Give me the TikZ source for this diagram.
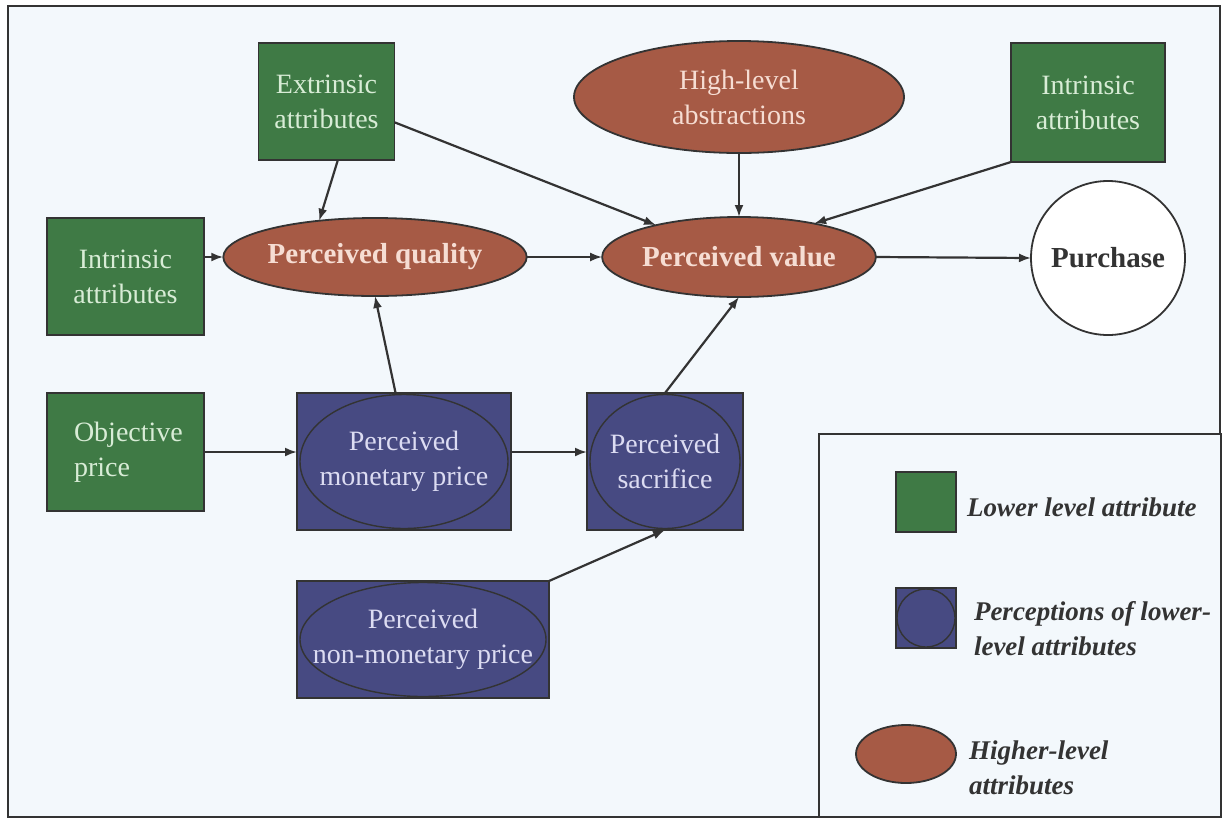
\documentclass[tikz,border=0pt]{standalone}
\usepackage{fontspec}
\setmainfont{Liberation Serif}
\usetikzlibrary{arrows.meta,calc,shapes.geometric}
\definecolor{bg}{HTML}{F3F8FC}
\definecolor{grn}{HTML}{3F7A45}
\definecolor{grntxt}{HTML}{D8ECD6}
\definecolor{brn}{HTML}{A65A45}
\definecolor{brntxt}{HTML}{F6DDD3}
\definecolor{blu}{HTML}{474A82}
\definecolor{blutxt}{HTML}{DCDCF2}
\definecolor{ink}{HTML}{333333}
\tikzset{
  every node/.style={inner sep=0pt, outer sep=0pt},
  lowbox/.style={rectangle, draw=ink, line width=1.8pt, fill=grn, text=grntxt, align=center,
    font=\fontsize{28}{35}\selectfont},
  highell/.style={ellipse, draw=ink, line width=1.8pt, fill=brn, text=brntxt, align=center},
  percbox/.style={rectangle, draw=ink, line width=1.8pt, fill=blu, text=blutxt, align=center,
    font=\fontsize{28}{35}\selectfont},
  inell/.style={draw=ink, line width=1.4pt},
  arr/.style={draw=ink, line width=2.2pt, -{Latex[length=12pt,width=9pt]}},
  legtext/.style={anchor=west, align=left, text=ink, font=\fontsize{27}{35}\selectfont\bfseries\itshape}
}
\begin{document}
\begin{tikzpicture}[x=1pt,y=-1pt]
\useasboundingbox (0,0) rectangle (1223,820);
\fill[white] (0,0) rectangle (1223,820);
\fill[bg] (8,6) rectangle (1220,817);
\draw[ink, line width=2.5pt] (8,6) rectangle (1220,817);

% lower-level attributes
\node[lowbox, minimum width=136pt, minimum height=117pt] (ext) at (326.5,101.5) {Extrinsic\\attributes};
\node[lowbox, minimum width=154pt, minimum height=119pt] (intr) at (1088,102.5) {Intrinsic\\attributes};
\node[lowbox, minimum width=157pt, minimum height=117pt] (intl) at (125.5,276.5) {Intrinsic\\attributes};
\node[lowbox, minimum width=157pt, minimum height=118pt] (obj) at (125.5,452) {};
\node[text=grntxt, align=left, anchor=west, font=\fontsize{28}{35}\selectfont] (objt) at (74,452) {Objective\\price};

% higher-level attributes
\node[highell, minimum width=330pt, minimum height=112pt, font=\fontsize{28}{35}\selectfont] (abs) at (739,97) {High-level\\abstractions};
\node[highell, minimum width=270pt, minimum height=78pt, font=\fontsize{29}{35}\selectfont\bfseries] (pq) at (375,257) {Perceived quality};
\node[highell, minimum width=270pt, minimum height=80pt, font=\fontsize{29}{35}\selectfont\bfseries] (pv) at (739,257) {Perceived value};
\node[circle, draw=ink, line width=1.8pt, fill=white, minimum size=154pt, text=ink, font=\fontsize{29}{35}\selectfont\bfseries] (pur) at (1108,258) {Purchase};

% perceptions
\node[percbox, minimum width=214pt, minimum height=137pt] (pmp) at (404,461.5) {};
\draw[inell] (pmp.center) ellipse [x radius=104, y radius=67];
\node[text=blutxt, align=center, font=\fontsize{28}{35}\selectfont] (pmpt) at (pmp.center) {Perceived\\monetary price};

\node[percbox, minimum width=156pt, minimum height=137pt] (ps) at (665,461.5) {};
\draw[inell] (ps.center) ellipse [x radius=75, y radius=67];
\node[text=blutxt, align=center, font=\fontsize{28}{35}\selectfont] (pst) at (ps.center) {Perceived\\sacrifice};

\node[percbox, minimum width=252pt, minimum height=117pt] (pnm) at (423,639.5) {};
\draw[inell] (pnm.center) ellipse [x radius=123, y radius=57];
\node[text=blutxt, align=center, font=\fontsize{28}{35}\selectfont] (pnmt) at (pnm.center) {Perceived\\non-monetary price};

% connectors
\draw[arr] (ext.-79) -- (pq.147);
\draw[arr] (ext.-17) -- (pv.159);
\draw[arr] (abs.south) -- (pv.north);
\draw[arr] (intr.south west) -- (pv.24);
\draw[arr] (intl.east |- pq.west) -- (pq.west);
\draw[arr] (pq.east) -- (pv.west);
\draw[arr] (pv.east) -- (pur.west);
\draw[arr] (pmp.97) -- (pq.south);
\draw[arr] (obj.east) -- (obj.east -| pmp.west);
\draw[arr] (obj.east -| pmp.east) -- (obj.east -| ps.west);
\draw[arr] (ps.north) -- (pv.south);
\draw[arr] (pnm.north east) -- (ps.south);

% legend
\draw[ink, line width=2.2pt, fill=bg] (819,434) rectangle (1221,817);
\node[rectangle, draw=ink, line width=1.8pt, fill=grn, minimum width=60pt, minimum height=60pt] (lg1) at (926,502) {};
\node[legtext] (lt1) at (967,507) {Lower level attribute};
\node[rectangle, draw=ink, line width=1.8pt, fill=blu, minimum width=60pt, minimum height=60pt] (lg2) at (926,618) {};
\draw[inell] (lg2.center) ellipse [x radius=29, y radius=29];
\node[legtext] (lt2) at (974,629) {Perceptions of lower-\\level attributes};
\node[ellipse, draw=ink, line width=1.8pt, fill=brn, minimum width=100pt, minimum height=58pt] (lg3) at (906,754) {};
\node[legtext] (lt3) at (969,768) {Higher-level\\attributes};
\end{tikzpicture}
\end{document}
